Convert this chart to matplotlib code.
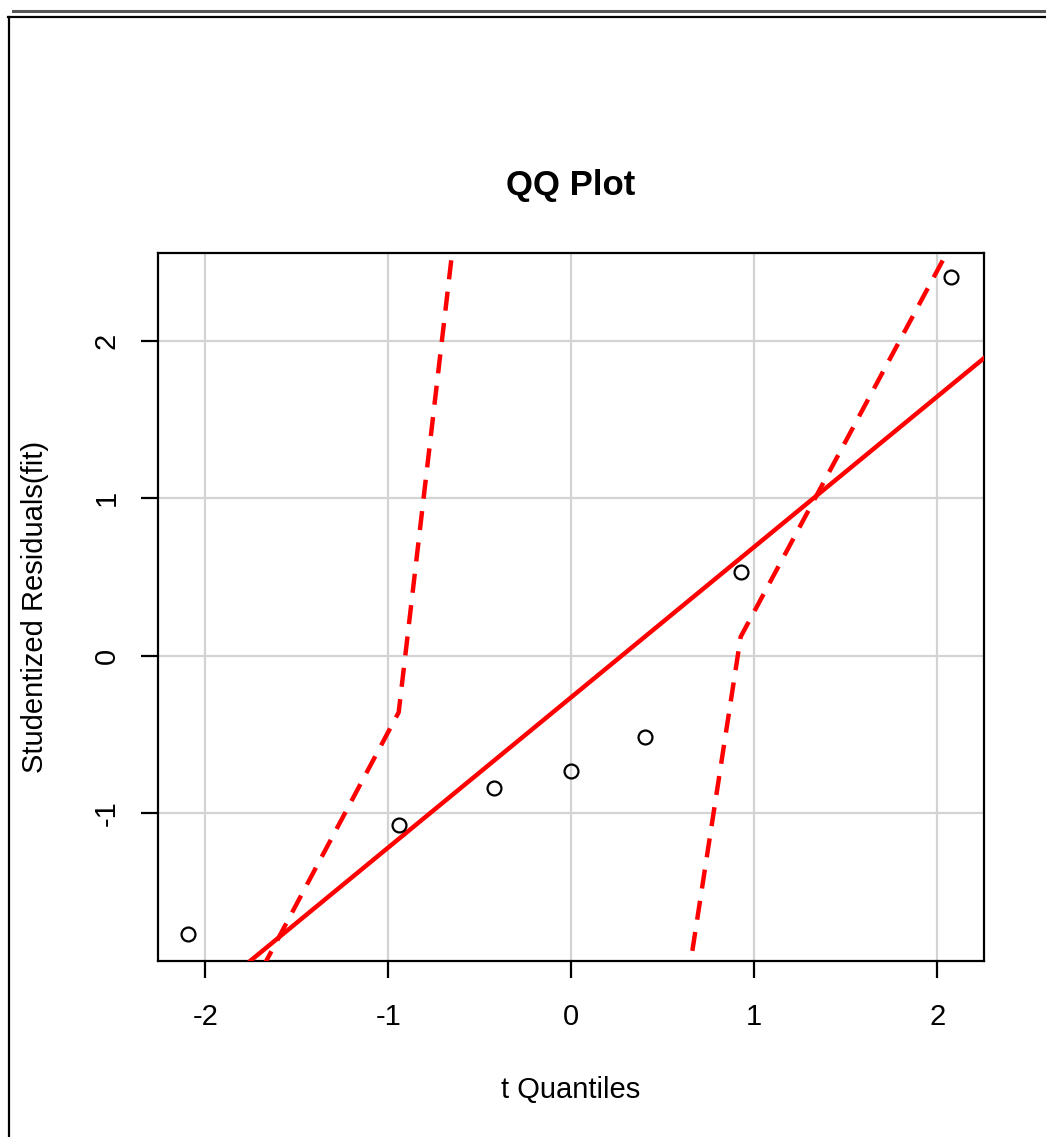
import matplotlib
matplotlib.use("Agg")
import matplotlib.pyplot as plt
from matplotlib.lines import Line2D

plt.rcParams["font.family"] = ["Liberation Sans", "DejaVu Sans"]

# studentized residuals against t quantiles
t_quant = [-2.093, -0.943, -0.420, 0.0, 0.403, 0.926, 2.076]
stud_res = [-1.767, -1.074, -0.839, -0.731, -0.515, 0.534, 2.403]

# reference line
line_intercept = -0.264
line_slope = 0.955

# confidence envelope (vertices at the quantiles)
env_upper = [-2.87, -0.36, 4.87, 6.2, 7.4, 9.0, 13.0]
env_lower = [-9.5, -7.6, -6.0, -4.9, -3.83, 0.12, 2.61]

xticks = [-2, -1, 0, 1, 2]
yticks = [-1, 0, 1, 2]

W, H = 1046, 1137
fig = plt.figure(figsize=(W / 100, H / 100), dpi=100)
fig.patch.set_facecolor("white")

# outer frame lines
fig.add_artist(Line2D([13 / W, 1], [1 - 11 / H, 1 - 11 / H], color="#555555", lw=2.2))
fig.add_artist(Line2D([8 / W, 1], [1 - 17 / H, 1 - 17 / H], color="black", lw=1.6))
fig.add_artist(Line2D([9 / W, 9 / W], [0, 1 - 17 / H], color="black", lw=1.6))

ax = fig.add_axes([157.7 / W, (H - 960.7) / H, 826 / W, 708 / H])
ax.set_xlim(-2.26, 2.254)
ax.set_ylim(-1.938, 2.56)

ax.set_xticks(xticks)
ax.set_yticks(yticks)
ax.set_xticklabels([str(v) for v in xticks])
ax.set_yticklabels([str(v) for v in yticks])
ax.grid(True, color="#d3d3d3", lw=1.6)
ax.set_axisbelow(True)
for sp in ax.spines.values():
    sp.set_linewidth(1.6)
    sp.set_color("black")
ax.tick_params(direction="out", length=12.5, width=1.6, labelsize=21, pad=18)
ax.tick_params(axis="y", labelrotation=90, pad=14)
for lab in ax.get_yticklabels():
    lab.set_va("center")

ax.axline((0, line_intercept), slope=line_slope, color="red", lw=3.2, zorder=3)
ax.plot(t_quant, env_upper, color="red", lw=3.2, dashes=(4.3, 2.8), zorder=3)
ax.plot(t_quant, env_lower, color="red", lw=3.2, dashes=(4.3, 2.8), zorder=3)
ax.plot(t_quant, stud_res, "o", mfc="none", mec="black", mew=1.6, ms=10, zorder=4)

ax.set_xlabel("t Quantiles", fontsize=21)
ax.xaxis.set_label_coords(0.5, -0.182)
ax.xaxis.label.set_va("center")
ax.set_ylabel("Studentized Residuals(fit)", fontsize=21)
ax.yaxis.set_label_coords(-0.149, 0.5)
ax.yaxis.label.set_va("center")
ax.set_title("QQ Plot", fontsize=25, fontweight="bold", y=1.083, va="center")

fig.savefig("out.png", dpi=100, facecolor="white")
